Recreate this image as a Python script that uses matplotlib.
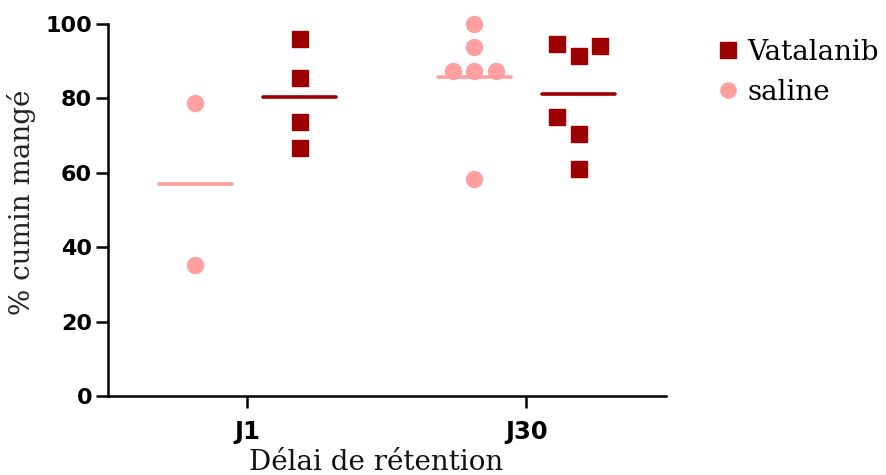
import matplotlib
matplotlib.use('Agg')
import matplotlib.pyplot as plt
from matplotlib.lines import Line2D
import numpy as np

# data
groups = ['J1', 'J30']
saline = [[78.8, 35.2],
          [100.0, 93.7, 87.5, 87.5, 87.5, 58.2]]
vatalanib = [[95.9, 85.4, 73.6, 66.6],
             [94.5, 91.5, 94.1, 74.9, 70.5, 60.9]]
# horizontal spread slots of the column scatter (in jitter steps)
saline_slot = [[0, 0], [0, 0, -1, 0, 1, 0]]
vatalanib_slot = [[0, 0, 0, 0], [-1, 0, 1, -1, 0, 0]]

PINK = '#ff9f9f'
DRED = '#9c0000'
OFF = 0.187
STEP = 0.078
HALF = 0.13

fig = plt.figure(figsize=(8.86, 4.75), dpi=100)
ax = fig.add_axes([108/886, 1-396/475, (666-108)/886, (396-24)/475])

for i, g in enumerate(groups):
    for vals, slots, off, col, mk, ms in [
            (saline[i], saline_slot[i], -OFF, PINK, 'o', 11.5),
            (vatalanib[i], vatalanib_slot[i], OFF, DRED, 's', 11.0)]:
        xs = [i + off + s*STEP for s in slots]
        ax.plot(xs, vals, ls='none', marker=mk, ms=ms, color=col,
                mec=col, clip_on=False, zorder=3)
        m = np.mean(vals)
        ax.plot([i + off - HALF, i + off + HALF], [m, m], color=col,
                lw=2.6, solid_capstyle='round', zorder=2)

ax.set_xlim(-0.5, 1.5)
ax.set_ylim(0, 100)
ax.set_xticks(range(len(groups)))
ax.set_xticklabels(groups)
ax.set_yticks([0, 20, 40, 60, 80, 100])
for s in ['top', 'right']:
    ax.spines[s].set_visible(False)
for s in ['left', 'bottom']:
    ax.spines[s].set_linewidth(1.8)
ax.tick_params(width=1.8, length=8.5, labelsize=16)
ax.tick_params(axis='x', pad=9, labelsize=17.5)
ax.tick_params(axis='y', pad=3)
for lab in ax.get_xticklabels() + ax.get_yticklabels():
    lab.set_fontweight('bold')
    lab.set_family('DejaVu Sans')

fig.text(376/886, 1-462/475, 'Délai de rétention', family='DejaVu Serif',
         fontsize=20, ha='center', va='center', color='#111111')
fig.text(22/886, 1-202/475, '% cumin mangé', family='DejaVu Serif',
         fontsize=20, ha='center', va='center', rotation=90, color='#222222')

handles = [Line2D([], [], ls='none', marker='s', ms=11, color=DRED),
           Line2D([], [], ls='none', marker='o', ms=11, color=PINK)]
fig.legend(handles, ['Vatalanib', 'saline'], loc='upper left',
           bbox_to_anchor=(718/886, 1-39/475), frameon=False,
           prop={'family': 'DejaVu Serif', 'size': 20},
           handlelength=0.7, handletextpad=0.35, labelspacing=0.45,
           borderaxespad=0, borderpad=0)

fig.savefig('out.png', dpi=100)
